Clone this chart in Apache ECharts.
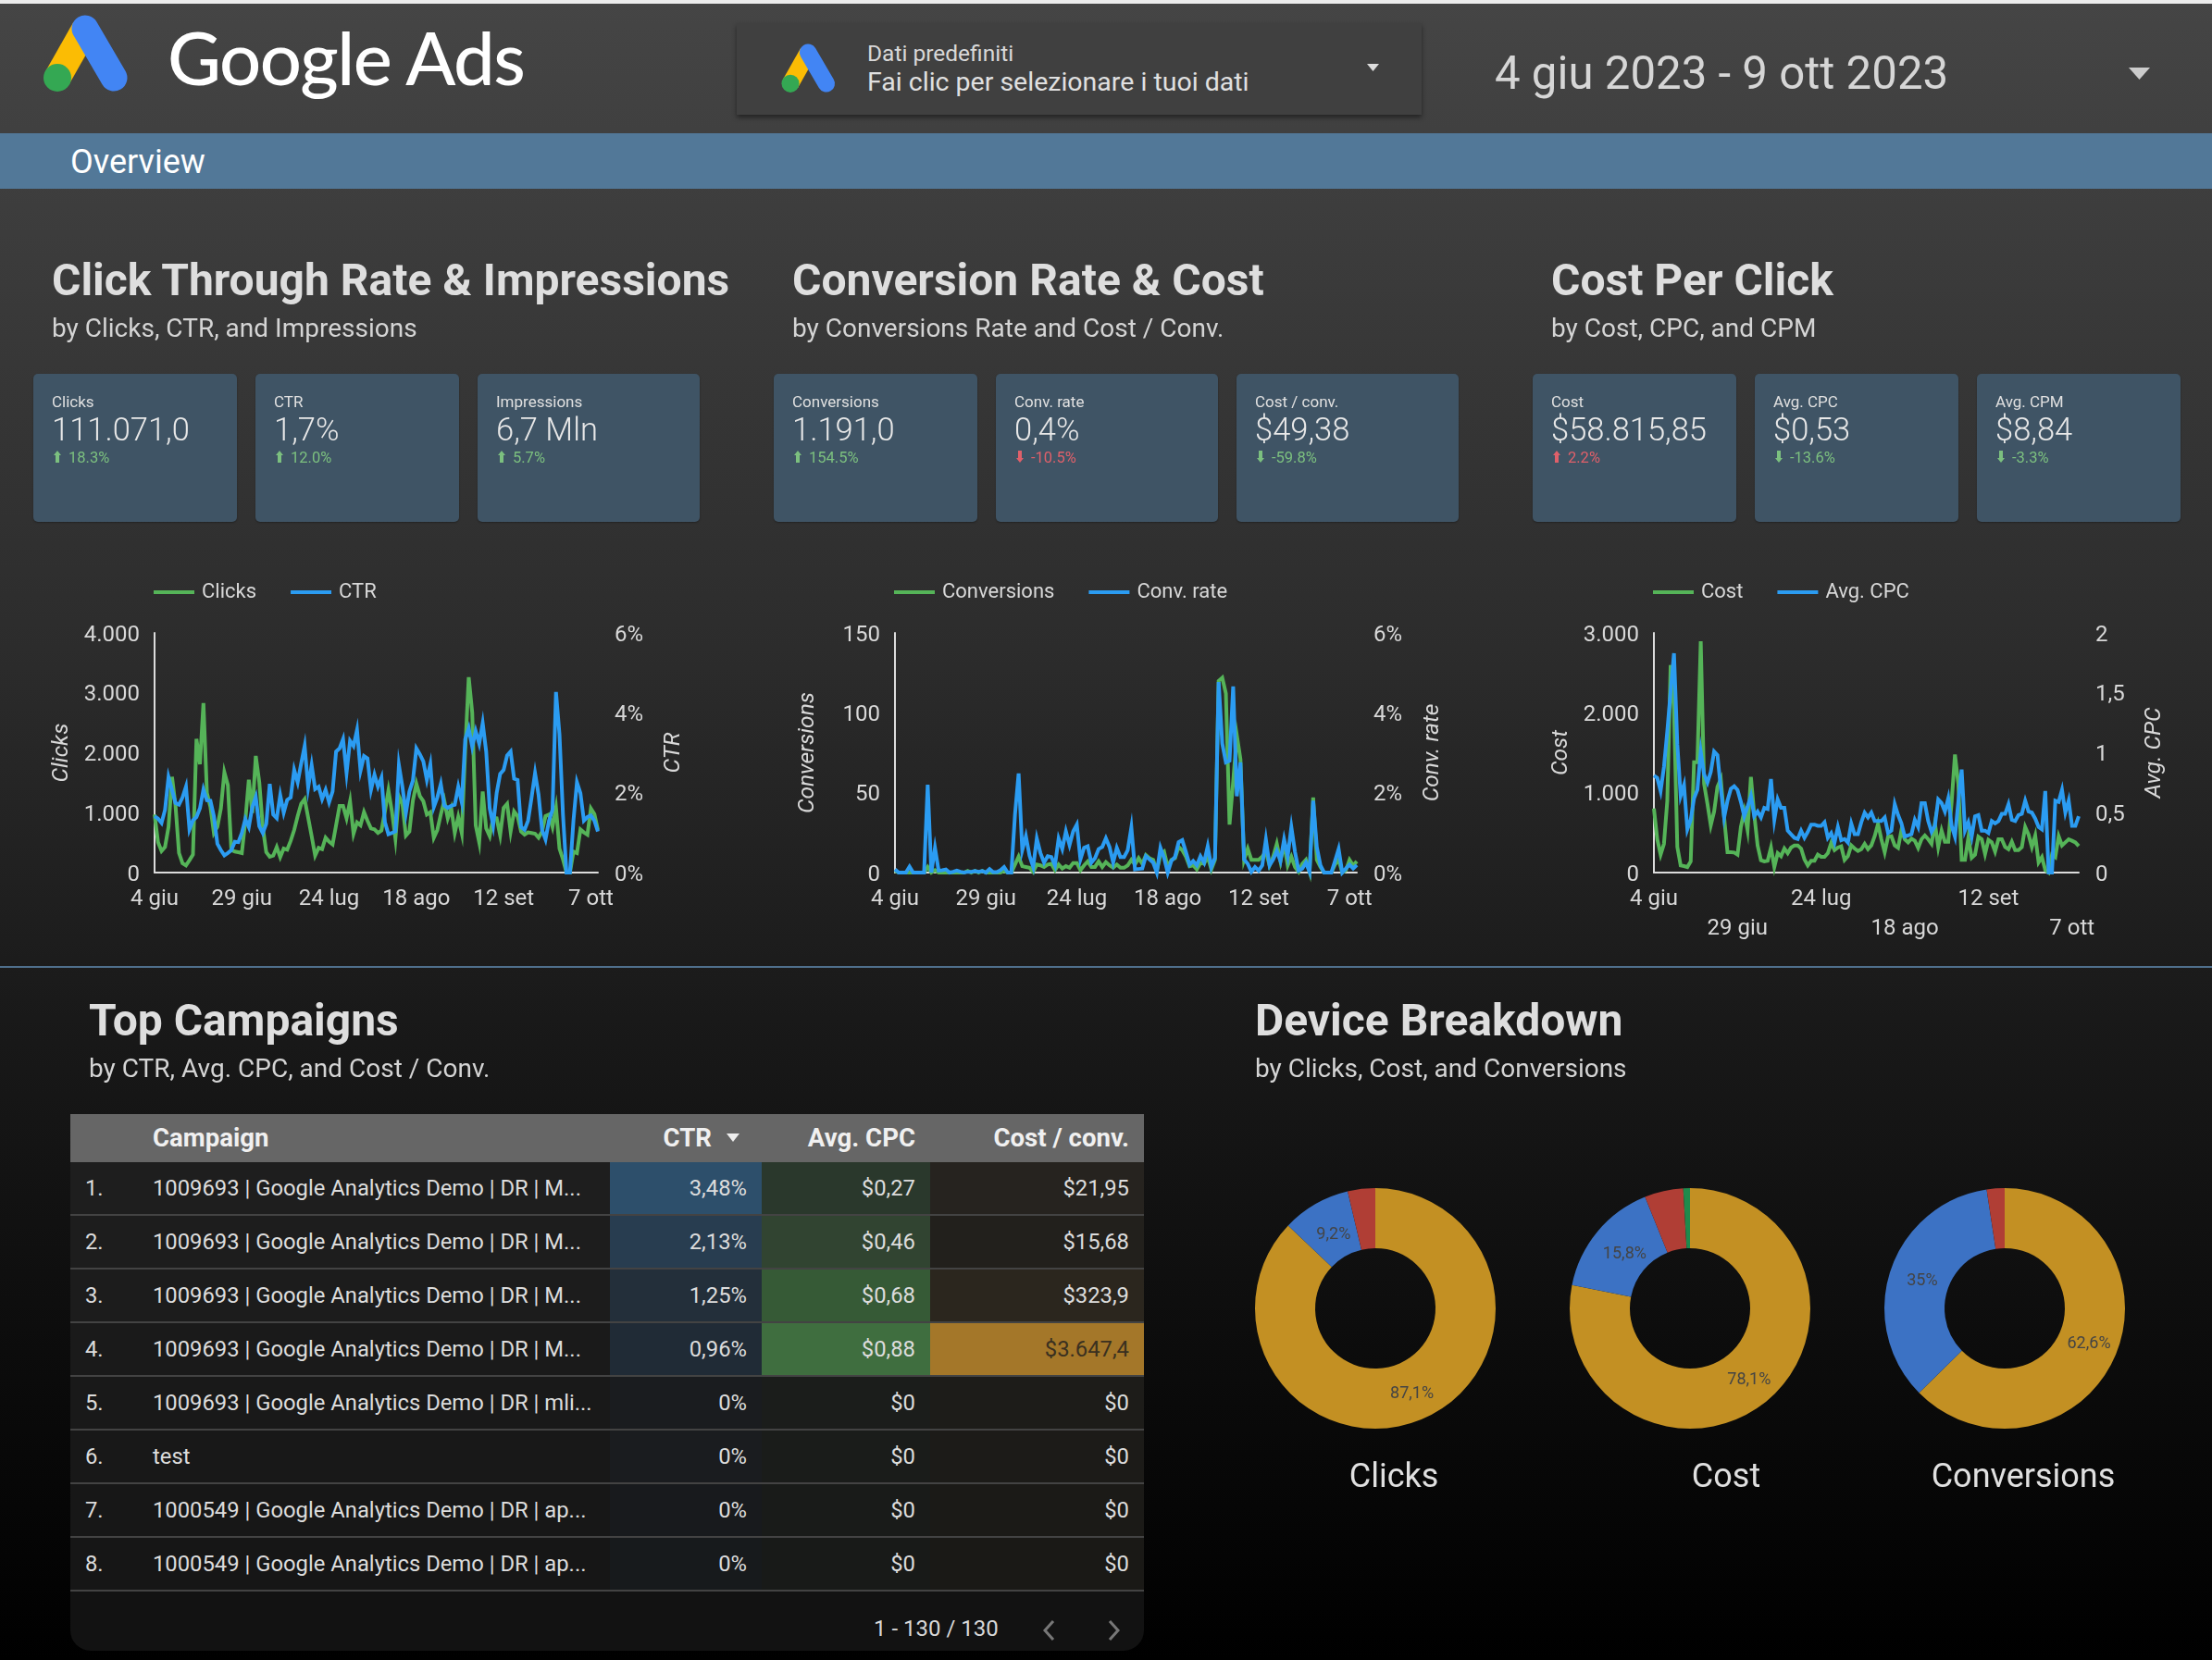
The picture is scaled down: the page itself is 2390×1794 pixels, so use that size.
<!DOCTYPE html>
<html>
<head>
<meta charset="utf-8">
<title>Google Ads Overview</title>
<script src="https://cdn.jsdelivr.net/npm/echarts@6/dist/echarts.min.js"></script>
<style>
    html, body { margin: 0; padding: 0; background: #000; }
    #page { position: relative; width: 2390px; height: 1794px; overflow: hidden; color: #e0e0e0;
        font-family: Roboto, sans-serif; background: linear-gradient(#454545 0, #2c2c2c 700px, #191919 1100px, #000 1794px); }
    #page > div, #page > svg { position: absolute; }
    #chart { left: 0; top: 0; width: 2390px; height: 1794px; }
    .t { white-space: nowrap; line-height: 1; }
    .card { background: #3f5465; border-radius: 5px; top: 404px; height: 160px; box-shadow: 0 1px 2px rgba(0,0,0,.3); }
    .card .lab { position: absolute; left: 20px; top: 20px; font-size: 17px; color: #e0e0e0; white-space: nowrap; }
    .card .val { position: absolute; left: 20px; top: 40px; font-size: 34.5px; font-weight: 300; color: #e8e8e8; white-space: nowrap; }
    .card .del { position: absolute; left: 38px; top: 81px; font-size: 16.5px; white-space: nowrap; }
    .card svg { position: absolute; left: 22px; top: 83px; }
    .row { position: absolute; left: 0; width: 1160px; height: 58px; border-bottom: 2px solid #434343; box-sizing: border-box; font-size: 23.8px; line-height: 56px; color: #dcdcdc; }
    .row span { position: absolute; white-space: nowrap; }
    .heat { position: absolute; top: 0; height: 56px; }
</style>
</head>
<body>
<div id="page">
    <div style="left:0;top:0;width:2390px;height:4px;background:#ececec"></div>
    <svg id="logoBig" style="left:40px;top:10px" width="110" height="95" viewBox="0 0 110 95"></svg>
    <div class="t" style="left:181px;top:14px;font:500 79.5px Lato,sans-serif;color:#fff;letter-spacing:-1.5px">Google Ads</div>
    <div style="left:796px;top:25px;width:740px;height:99px;background:#404040;box-shadow:0 3px 5px rgba(0,0,0,.45)"></div>
    <svg id="logoSmall" style="left:840px;top:43px" width="70" height="61" viewBox="0 0 110 95"></svg>
    <div class="t" style="left:937px;top:46px;font-size:24.5px;color:#d8d8d8">Dati predefiniti</div>
    <div class="t" style="left:937px;top:75px;font-size:28.5px;color:#e0e0e0">Fai clic per selezionare i tuoi dati</div>
    <svg style="left:1477px;top:69px" width="13" height="8"><path d="M0 0H13L6.5 8Z" fill="#ddd"/></svg>
    <div class="t" style="left:1615px;top:55px;font-size:49.2px;color:#d6d6d6">4 giu 2023 - 9 ott 2023</div>
    <svg style="left:2300px;top:73px" width="23" height="13"><path d="M0 0H23L11.5 13Z" fill="#ccc"/></svg>
    <div style="left:0;top:144px;width:2390px;height:60px;background:#527898"></div>
    <div class="t" style="left:76px;top:157px;font-size:36px;color:#fff">Overview</div>
    <div style="left:0;top:1044px;width:2390px;height:2px;background:#4f6f8c"></div>
    <div id="chart"></div>
</div>
<script>
    // ---- data ----
    var monthNames = ["giu", "lug", "ago", "set", "ott"];
    var monthDays = [30, 31, 31, 30, 31];

    var clicks = [968, 505, 360, 427, 762, 1597, 1120, 325, 155, 118, 206, 300, 2230, 1808, 2830, 1330, 1097, 660, 762, 1070, 1674, 1457, 376, 350, 340, 325, 865, 1550, 994, 1947, 1509, 762, 340, 263, 283, 427, 257, 400, 381, 530, 710, 942, 1148, 1225, 916, 607, 283, 412, 391, 582, 515, 468, 788, 1112, 1112, 906, 1190, 649, 839, 788, 1009, 865, 736, 720, 660, 700, 1020, 1370, 1020, 566, 1277, 1148, 618, 685, 1200, 1483, 1277, 1190, 968, 1009, 582, 710, 968, 1200, 906, 1071, 660, 927, 660, 2050, 3260, 2668, 788, 505, 1354, 736, 607, 916, 906, 623, 1081, 1148, 685, 1020, 942, 685, 633, 670, 660, 649, 582, 685, 942, 968, 762, 1081, 400, 221, 0, 0, 350, 325, 720, 670, 633, 1071, 978, 710];
    var ctr = [1.41, 1.35, 1.24, 1.57, 2.39, 2.07, 1.74, 1.70, 1.88, 2.15, 1.08, 1.31, 1.39, 1.61, 2.08, 1.81, 1.80, 1.41, 0.72, 0.56, 0.43, 0.49, 0.56, 0.77, 0.76, 0.99, 1.34, 1.14, 1.64, 1.89, 1.16, 0.99, 1.22, 2.22, 1.45, 1.36, 1.94, 1.5, 1.82, 1.88, 2.57, 2.26, 2.73, 3.17, 2.13, 2.69, 2.09, 2.15, 1.84, 2.07, 1.76, 2.03, 3.03, 3.11, 3.34, 2.49, 3.30, 3.17, 3.57, 2.55, 2.92, 2.86, 2.07, 2.45, 2.15, 2.38, 1.26, 0.96, 0.99, 1.03, 2.69, 2.15, 1.49, 2.03, 2.30, 3.11, 2.96, 2.78, 2.32, 2.71, 1.64, 1.88, 2.22, 1.68, 1.62, 1.67, 1.70, 2.15, 1.76, 3.34, 3.61, 3.15, 3.54, 3.23, 3.74, 3.03, 1.61, 1.18, 1.99, 2.47, 2.57, 2.93, 3.03, 2.35, 2.32, 1.14, 1.07, 1.30, 1.88, 2.49, 1.95, 1.07, 0.83, 1.30, 1.57, 4.52, 3.46, 1.45, 0, 0, 1.30, 2.26, 1.99, 1.30, 1.39, 1.43, 1.30, 1.03];
    var conversions = [1, 0, 0, 0, 0, 0, 0, 0, 0, 3.5, 0, 1.5, 0, 0, 0, 0, 0, 0, 0, 0, 1, 0, 1, 0, 1, 0, 0, 0, 0, 0, 1, 0, 0, 5, 10, 4, 3.5, 3, 0.5, 5, 4.5, 3.5, 5, 5.5, 1.5, 5, 2.5, 4, 3, 6, 6, 1.5, 4.5, 7, 3.5, 3.5, 7, 3.5, 6.5, 4.5, 3, 5, 3, 3, 4.5, 8, 5, 9, 5.5, 11, 9, 8, 1, 11, 13, 3.5, 8, 9, 16, 14, 10, 4, 4.5, 2, 6, 5.5, 10, 2, 8, 120, 122, 112, 30, 57, 86, 71, 8, 15, 8, 8, 8, 10, 13, 4.5, 10, 18, 7, 18, 4.5, 10, 3.5, 0.5, 5.5, 8, 0.5, 47, 8, 3.5, 0, 0, 0, 5, 8, 0, 1.5, 8, 4.5, 7];
    var convRate = [0.08, 0, 0, 0, 0.15, 0, 0, 0, 0, 2.2, 0, 0.62, 0.05, 0.06, 0.08, 0, 0.02, 0.05, 0.02, 0, 0.02, 0.02, 0.04, 0.02, 0.04, 0, 0.09, 0.01, 0.01, 0.06, 0.14, 0, 0, 1.45, 2.48, 0.56, 0.91, 0.42, 0.14, 0.85, 0.49, 0.25, 0.41, 0.39, 0.18, 0.85, 0.59, 1.03, 0.69, 1.03, 1.2, 0.33, 0.62, 0.66, 0.25, 0.36, 0.59, 0.64, 0.86, 0.64, 0.25, 0.62, 0.39, 0.39, 0.56, 1.13, 0.08, 0.09, 0.1, 0.41, 0.33, 0.25, 0, 0.62, 0.37, 0, 0.29, 0.39, 0.76, 0.81, 0.52, 0.2, 0.29, 0.18, 0.41, 0.25, 0.66, 0.14, 0.37, 4.77, 3.23, 2.76, 2.8, 4.66, 1.91, 2.76, 0.33, 0.22, 0.02, 0.14, 0.05, 0.18, 0.83, 0.18, 0.33, 0.54, 0.29, 0.83, 0.41, 1.14, 0.52, 0.05, 0.1, 0.25, 0.02, 1.8, 0.64, 0.18, 0, 0, 0, 0.29, 0.59, 0, 0.1, 0.2, 0.1, 0.19];
    var cost = [803, 417, 224, 359, 900, 2598, 2038, 320, 89, 81, 69, 139, 1382, 1382, 2895, 1112, 861, 591, 764, 1073, 1170, 687, 255, 255, 251, 224, 571, 764, 533, 1197, 726, 340, 154, 139, 147, 313, 69, 243, 205, 301, 243, 313, 340, 340, 301, 166, 89, 147, 147, 224, 197, 197, 243, 371, 282, 313, 328, 158, 205, 340, 301, 270, 293, 359, 293, 340, 455, 610, 417, 255, 448, 455, 340, 309, 533, 417, 378, 425, 398, 309, 417, 463, 417, 359, 618, 320, 525, 386, 386, 880, 1478, 1112, 158, 158, 436, 185, 224, 448, 417, 232, 409, 378, 262, 417, 417, 320, 293, 386, 282, 282, 320, 571, 475, 320, 463, 127, 193, 31, 0, 224, 193, 455, 340, 378, 417, 398, 378, 332];
    var avgCpc = [0.81, 0.79, 0.68, 0.88, 1.18, 1.51, 1.83, 1.07, 0.64, 0.73, 0.36, 0.44, 0.62, 0.69, 1.01, 0.82, 0.75, 0.84, 1.01, 0.98, 0.70, 0.46, 0.60, 0.70, 0.72, 0.69, 0.59, 0.47, 0.55, 0.64, 0.47, 0.51, 0.46, 0.54, 0.53, 0.78, 0.44, 0.61, 0.54, 0.54, 0.35, 0.32, 0.29, 0.28, 0.35, 0.29, 0.34, 0.40, 0.40, 0.39, 0.39, 0.42, 0.29, 0.33, 0.25, 0.38, 0.27, 0.28, 0.25, 0.41, 0.32, 0.32, 0.42, 0.50, 0.46, 0.50, 0.43, 0.43, 0.43, 0.46, 0.33, 0.35, 0.57, 0.48, 0.41, 0.30, 0.31, 0.32, 0.44, 0.38, 0.58, 0.58, 0.43, 0.34, 0.39, 0.61, 0.58, 0.51, 0.62, 0.39, 0.30, 0.59, 0.86, 0.35, 0.42, 0.30, 0.47, 0.48, 0.35, 0.35, 0.33, 0.43, 0.41, 0.43, 0.49, 0.49, 0.57, 0.44, 0.43, 0.48, 0.49, 0.60, 0.51, 0.50, 0.45, 0.38, 0.36, 0.68, 0, 0, 0.60, 0.59, 0.69, 0.50, 0.60, 0.39, 0.39, 0.47];

    var pieClicks = [87.1, 9.2, 3.7];
    var pieCost = [78.1, 15.8, 5.2, 0.9];
    var pieConversions = [62.6, 35, 2.4];
    var pieColors = ["#c39023", "#3c72c4", "#b03e35", "#1f8a4c"];
    var pieCaptions = ["Clicks", "Cost", "Conversions"];

    var sectionTitles = ["Click Through Rate & Impressions", "Conversion Rate & Cost", "Cost Per Click", "Top Campaigns", "Device Breakdown"];
    var sectionSubs = ["by Clicks, CTR, and Impressions", "by Conversions Rate and Cost / Conv.", "by Cost, CPC, and CPM", "by CTR, Avg. CPC, and Cost / Conv.", "by Clicks, Cost, and Conversions"];

    var cardLabels = ["Clicks", "CTR", "Impressions", "Conversions", "Conv. rate", "Cost / conv.", "Cost", "Avg. CPC", "Avg. CPM"];
    var cardValues = ["111.071,0", "1,7%", "6,7 Mln", "1.191,0", "0,4%", "$49,38", "$58.815,85", "$0,53", "$8,84"];
    var cardDeltas = ["18.3%", "12.0%", "5.7%", "154.5%", "-10.5%", "-59.8%", "2.2%", "-13.6%", "-3.3%"];
    var cardGood = [true, true, true, true, false, true, false, true, true];

    var campaigns = ["1009693 | Google Analytics Demo | DR | M...", "1009693 | Google Analytics Demo | DR | M...", "1009693 | Google Analytics Demo | DR | M...", "1009693 | Google Analytics Demo | DR | M...", "1009693 | Google Analytics Demo | DR | mli...", "test", "1000549 | Google Analytics Demo | DR | ap...", "1000549 | Google Analytics Demo | DR | ap..."];
    var tableCtr = ["3,48%", "2,13%", "1,25%", "0,96%", "0%", "0%", "0%", "0%"];
    var tableCpc = ["$0,27", "$0,46", "$0,68", "$0,88", "$0", "$0", "$0", "$0"];
    var tableCost = ["$21,95", "$15,68", "$323,9", "$3.647,4", "$0", "$0", "$0", "$0"];
    var ctrHeat = ["#2d4f6b", "#283d50", "#232f3a", "#202b36", "#1a1c1f", "#1a1c1f", "#181a1d", "#171a1c"];
    var cpcHeat = ["#2a382c", "#314431", "#365a36", "#3f6e3f", "#1b1d1b", "#1a1c1a", "#191b19", "#181a18"];
    var costHeat = ["#26231f", "#22201c", "#2b261e", "#a47729", "#1d1c19", "#1c1b18", "#1b1a17", "#1a1916"];

    // ---- page chrome ----
    var page = document.getElementById("page");

    function addText(x, y, size, weight, color, str) {
        var d = document.createElement("div");
        d.className = "t";
        d.style.cssText = "left:" + x + "px;top:" + y + "px;font-size:" + size + "px;font-weight:" + weight + ";color:" + color;
        d.textContent = str;
        page.appendChild(d);
    }

    function drawLogo(id) {
        document.getElementById(id).innerHTML =
            '<line x1="22" y1="74" x2="52" y2="21" stroke="#fbbc04" stroke-width="29"/>' +
            '<line x1="52" y1="21" x2="83" y2="74" stroke="#4285f4" stroke-width="29" stroke-linecap="round"/>' +
            '<circle cx="22" cy="74" r="15" fill="#34a853"/>';
    }
    drawLogo("logoBig");
    drawLogo("logoSmall");

    var titleX = [56, 856, 1676, 96, 1356];
    var titleY = [279, 279, 279, 1079, 1079];
    sectionTitles.forEach(function (str, i) {
        addText(titleX[i], titleY[i], 48, 700, "#dedede", str);
        addText(titleX[i], titleY[i] + 62, 28, 400, "#d4d4d4", sectionSubs[i]);
    });

    var cardLeft = [36, 276, 516, 836, 1076, 1336, 1656, 1896, 2136];
    var cardWidth = [220, 220, 240, 220, 240, 240, 220, 220, 220];
    cardLabels.forEach(function (lab, i) {
        var c = document.createElement("div");
        var col = cardGood[i] ? "#7cc07f" : "#e0606a";
        var up = cardDeltas[i].charAt(0) !== "-";
        var arrow = up ? "M4 0L8 5H6V13H2V5H0Z" : "M4 13L8 8H6V0H2V8H0Z";
        c.className = "card";
        c.style.left = cardLeft[i] + "px";
        c.style.width = cardWidth[i] + "px";
        c.innerHTML = '<div class="lab">' + lab + '</div><div class="val">' + cardValues[i] + '</div>' +
            '<svg width="8" height="13"><path d="' + arrow + '" fill="' + col + '"/></svg>' +
            '<div class="del" style="color:' + col + '">' + cardDeltas[i] + '</div>';
        page.appendChild(c);
    });

    pieCaptions.forEach(function (str, i) {
        var d = document.createElement("div");
        d.className = "t";
        d.style.cssText = "left:" + [1506, 1865, 2186][i] + "px;top:1577px;font-size:36px;color:#e0e0e0;transform:translateX(-50%)";
        d.textContent = str;
        page.appendChild(d);
    });

    // table
    var table = document.createElement("div");
    table.style.cssText = "left:76px;top:1204px;width:1160px;height:580px;background:#121212;border-radius:0 0 22px 22px;overflow:hidden";
    page.appendChild(table);

    var rowsHtml = '<div style="position:absolute;left:0;top:0;width:1160px;height:52px;background:#666;color:#f0f0f0;font-size:27.6px;font-weight:700;line-height:52px">' +
        '<span style="position:absolute;left:89px">Campaign</span>' +
        '<span style="position:absolute;right:467px">CTR</span>' +
        '<svg style="position:absolute;left:709px;top:21px" width="14" height="9"><path d="M0 0H14L7 9Z" fill="#eee"/></svg>' +
        '<span style="position:absolute;right:247px">Avg. CPC</span>' +
        '<span style="position:absolute;right:16px">Cost / conv.</span></div>';
    campaigns.forEach(function (name, i) {
        var g = 30 - i * 1.2;
        rowsHtml += '<div class="row" style="top:' + (52 + i * 58) + 'px;background:rgb(' + g + ',' + g + ',' + g + ')">' +
            '<div class="heat" style="left:583px;width:164px;background:' + ctrHeat[i] + '"></div>' +
            '<div class="heat" style="left:747px;width:182px;background:' + cpcHeat[i] + '"></div>' +
            '<div class="heat" style="left:929px;width:231px;background:' + costHeat[i] + '"></div>' +
            '<span style="left:16px">' + (i + 1) + '.</span>' +
            '<span style="left:89px">' + name + '</span>' +
            '<span style="right:429px">' + tableCtr[i] + '</span>' +
            '<span style="right:247px">' + tableCpc[i] + '</span>' +
            '<span style="right:16px;' + (i === 3 ? 'color:#3a3020' : '') + '">' + tableCost[i] + '</span></div>';
    });
    rowsHtml += '<div style="position:absolute;left:868px;top:544px;font-size:24px;line-height:24px;color:#d8d8d8;white-space:nowrap">1 - 130 / 130</div>' +
        '<svg style="position:absolute;left:1050px;top:546px" width="14" height="24"><path d="M12 2L3 12L12 22" fill="none" stroke="#777" stroke-width="3"/></svg>' +
        '<svg style="position:absolute;left:1121px;top:546px" width="14" height="24"><path d="M2 2L11 12L2 22" fill="none" stroke="#777" stroke-width="3"/></svg>';
    table.innerHTML = rowsHtml;

    // ---- charts ----
    var dayLabels = [];
    monthNames.forEach(function (m, k) {
        for (var d = (k === 0 ? 4 : 1); d <= monthDays[k] && dayLabels.length < 128; d++) {
            dayLabels.push(d + " " + m);
        }
    });

    var thousands = function (v) {
        return String(v).replace(/\B(?=(\d{3})+$)/g, ".");
    };
    var percent = function (v) {
        return v + "%";
    };
    var decimal = function (v) {
        return String(v).replace(".", ",");
    };

    var GREEN = "#55b458", BLUE = "#2b9cf2", AXIS = "#dcdcdc", LABEL = "#d8d8d8", FONT = "Roboto";

    var panels = [
        {left: 167, right: 646, names: ["Clicks", "CTR"], a: clicks, b: ctr, max: [4000, 6], step: [1000, 2], fmt: [thousands, percent], gap: [88, 69], stagger: false},
        {left: 967, right: 1466, names: ["Conversions", "Conv. rate"], a: conversions, b: convRate, max: [150, 6], step: [50, 2], fmt: [thousands, percent], gap: [82, 69], stagger: false},
        {left: 1787, right: 2246, names: ["Cost", "Avg. CPC"], a: cost, b: avgCpc, max: [3000, 2], step: [1000, 0.5], fmt: [thousands, decimal], gap: [88, 69], stagger: true}
    ];

    var grids = [], xAxes = [], yAxes = [], series = [], legends = [];
    panels.forEach(function (p, i) {
        grids.push({left: p.left, width: p.right - p.left, top: 684, height: 259});
        legends.push({
            left: p.left - 6, top: 624, data: p.names, icon: "rect", itemWidth: 44, itemHeight: 4, itemGap: 37,
            textStyle: {color: LABEL, fontSize: 22, fontFamily: FONT, padding: [0, 0, 0, 3]}
        });
        xAxes.push({
            type: "category", gridIndex: i, data: dayLabels, boundaryGap: false,
            axisLine: {lineStyle: {color: AXIS, width: 2}}, axisTick: {show: false},
            axisLabel: {
                color: LABEL, fontSize: 24, fontFamily: FONT, margin: 13, lineHeight: 32,
                hideOverlap: false,
                interval: function (n) { return n % 25 === 0; },
                formatter: function (val, n) {
                    return p.stagger && (n / 25) % 2 === 1 ? "\n" + val : val;
                }
            }
        });
        [0, 1].forEach(function (k) {
            yAxes.push({
                type: "value", gridIndex: i, position: k === 0 ? "left" : "right",
                min: 0, max: p.max[k], interval: p.step[k],
                name: p.names[k], nameLocation: "middle", nameGap: p.gap[k], nameRotate: 90, nameMoveOverlap: false,
                nameTextStyle: {color: LABEL, fontSize: 24.5, fontStyle: "italic", fontFamily: FONT},
                axisLine: {show: k === 0, onZero: false, lineStyle: {color: AXIS, width: 2}},
                axisTick: {show: false}, splitLine: {show: false},
                // top + short line box drops the digits onto the tick like the report does
                axisLabel: {color: LABEL, fontSize: 24, fontFamily: FONT, margin: k === 0 ? 16 : 18, verticalAlign: "top", lineHeight: 5, formatter: p.fmt[k]}
            });
        });
        series.push({name: p.names[0], type: "line", xAxisIndex: i, yAxisIndex: i * 2, data: p.a, showSymbol: false, color: GREEN, lineStyle: {width: 4, join: "miter"}, clip: false});
        series.push({name: p.names[1], type: "line", xAxisIndex: i, yAxisIndex: i * 2 + 1, data: p.b, showSymbol: false, color: BLUE, lineStyle: {width: 4, join: "miter"}, clip: false});
    });

    var pieCenters = [1486, 1826, 2166];
    [pieClicks, pieCost, pieConversions].forEach(function (vals, i) {
        series.push({
            type: "pie", center: [pieCenters[i], 1414], radius: [65, 130], startAngle: 90, silent: true,
            data: vals.map(function (v, j) {
                return {value: v, name: pieCaptions[i] + " " + v, itemStyle: {color: pieColors[j]}};
            }),
            labelLine: {show: false},
            label: {
                position: "inside", fontSize: 18, fontFamily: FONT,
                color: "#444",
                formatter: function (o) {
                    return o.value >= 9 ? decimal(o.value) + "%" : "";
                }
            },
            // the report keeps its labels a little nearer the hole than mid ring
            labelLayout: function (o) {
                var r = o.rect;
                return {
                    dx: (pieCenters[i] - (r.x + r.width / 2)) * 0.09,
                    dy: (1414 - (r.y + r.height / 2)) * 0.09
                };
            }
        });
    });

    var chart = echarts.init(document.getElementById("chart"));
    chart.setOption({
        animation: false,
        backgroundColor: "transparent",
        grid: grids,
        legend: legends,
        xAxis: xAxes,
        yAxis: yAxes,
        series: series
    });
</script>
</body>
</html>
